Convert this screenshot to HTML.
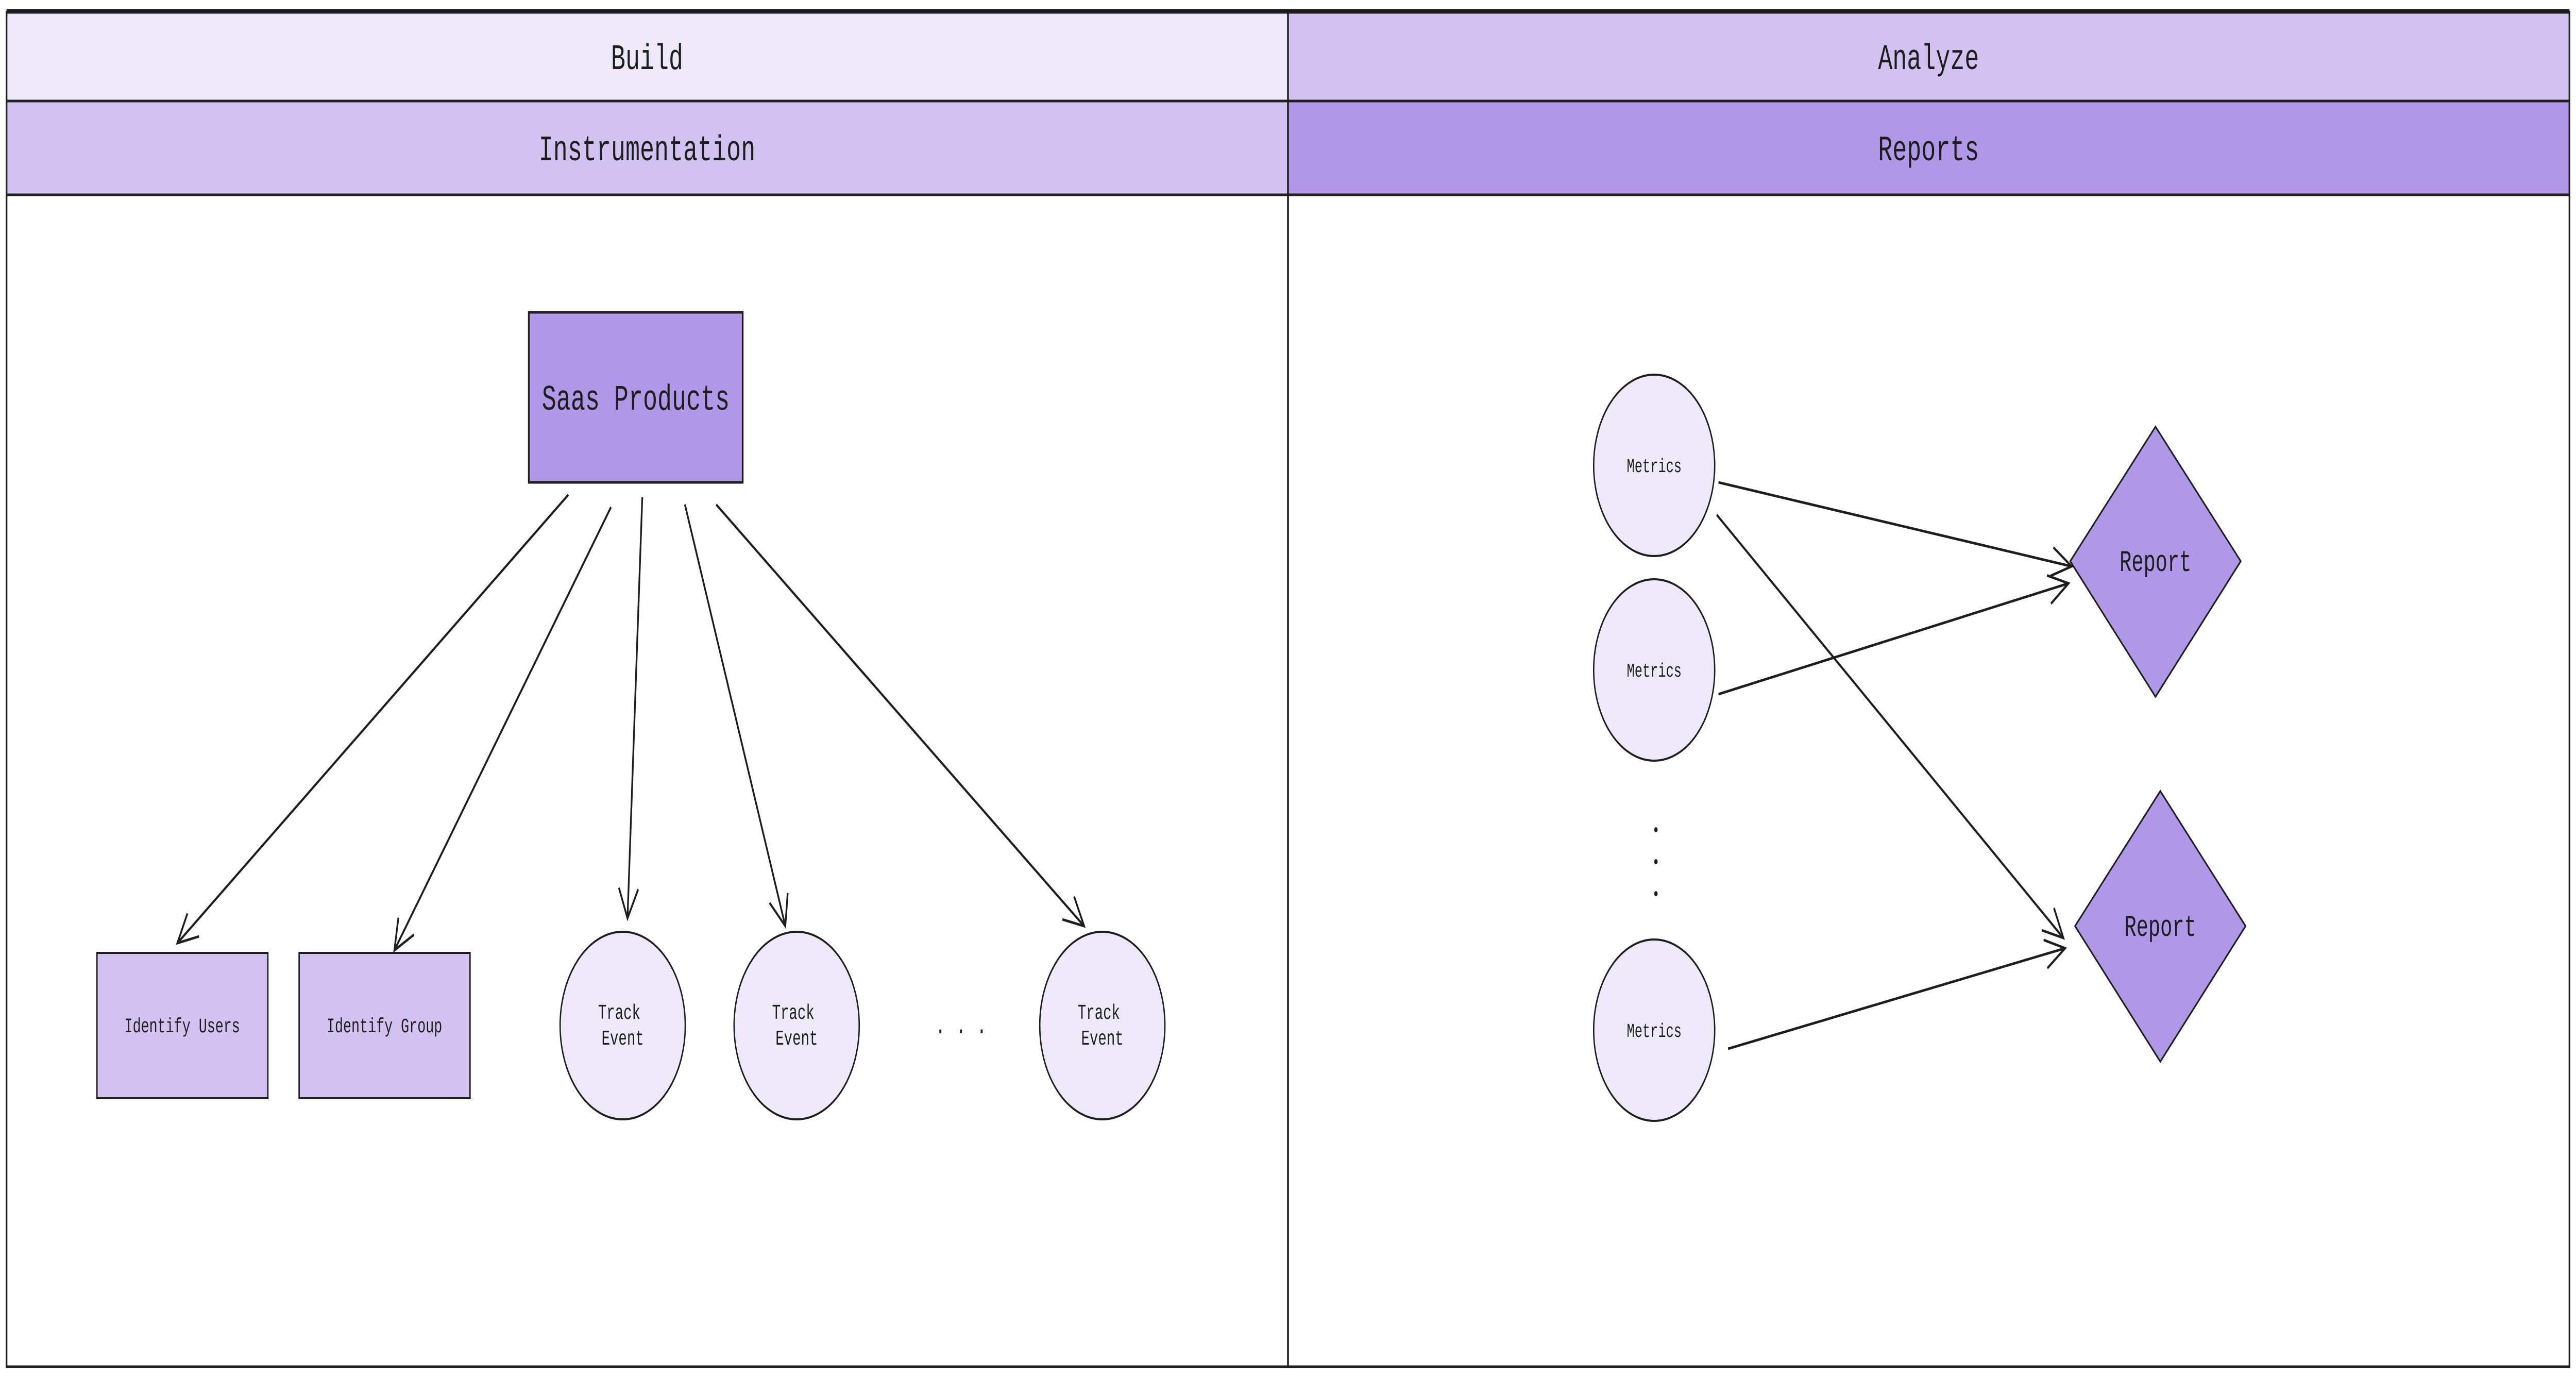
<!DOCTYPE html>
<html><head><meta charset="utf-8"><style>
html,body{margin:0;padding:0;background:#fff;width:100%;height:100%;overflow:hidden;}
svg{display:block;width:100vw;height:100vh;}
text{font-family:"Liberation Mono","DejaVu Sans Mono",monospace;fill:#1e1e1e;}
</style></head><body>
<svg viewBox="0 0 7492 2670" preserveAspectRatio="none" xmlns="http://www.w3.org/2000/svg">
<defs>
<marker id="a" markerWidth="70" markerHeight="70" refX="60" refY="30" orient="auto" markerUnits="userSpaceOnUse">
<path d="M2,2 L60,30 L2,58" fill="none" stroke="#1e1e1e" stroke-width="5"/>
</marker>
</defs>
<rect x="19" y="24" width="3727" height="172" fill="#ede9f8" stroke="#1e1e1e" stroke-width="5"/>
<rect x="3746" y="24" width="3727" height="172" fill="#d2c2f0" stroke="#1e1e1e" stroke-width="5"/>
<rect x="19" y="196" width="3727" height="182" fill="#d2c2f0" stroke="#1e1e1e" stroke-width="5"/>
<rect x="3746" y="196" width="3727" height="182" fill="#b098e8" stroke="#1e1e1e" stroke-width="5"/>
<rect x="19" y="378" width="3727" height="2274" fill="none" stroke="#1e1e1e" stroke-width="5"/>
<rect x="3746" y="378" width="3727" height="2274" fill="none" stroke="#1e1e1e" stroke-width="5"/>
<line x1="19" y1="20" x2="7473" y2="20" stroke="#1e1e1e" stroke-width="4"/>
<g font-size="70" text-anchor="middle">
<text x="1882" y="134">Build</text>
<text x="5609" y="134">Analyze</text>
<text x="1882" y="311">Instrumentation</text>
<text x="5609" y="311">Reports</text>
</g>
<rect x="1538" y="606" width="622" height="330" fill="#b098e8" stroke="#1e1e1e" stroke-width="5"/>
<text x="1849" y="795" font-size="70" text-anchor="middle">Saas Products</text>
<rect x="282" y="1849" width="497" height="282" fill="#d2c2f0" stroke="#1e1e1e" stroke-width="4"/>
<rect x="870" y="1849" width="497" height="282" fill="#d2c2f0" stroke="#1e1e1e" stroke-width="4"/>
<g font-size="40" text-anchor="middle">
<text x="530" y="2003">Identify Users</text>
<text x="1118" y="2003">Identify Group</text>
</g>
<g fill="#ede9f8" stroke="#1e1e1e" stroke-width="4">
<circle cx="1811" cy="1990" r="182"/>
<circle cx="2317" cy="1990" r="182"/>
<circle cx="3206" cy="1990" r="182"/>
<circle cx="4811" cy="903" r="176"/>
<circle cx="4811" cy="1300" r="176"/>
<circle cx="4811" cy="1999" r="176"/>
</g>
<g font-size="41" text-anchor="middle">
<text x="1801" y="1977">Track</text><text x="1811" y="2027">Event</text>
<text x="2307" y="1977">Track</text><text x="2317" y="2027">Event</text>
<text x="3196" y="1977">Track</text><text x="3206" y="2027">Event</text>
</g>
<g font-size="38" text-anchor="middle">
<text x="4811" y="916">Metrics</text>
<text x="4811" y="1313">Metrics</text>
<text x="4811" y="2012">Metrics</text>
</g>
<text x="2795" y="2005" font-size="50" text-anchor="middle">. . .</text>
<g fill="#1e1e1e"><circle cx="4816" cy="1610" r="5"/><circle cx="4816" cy="1672" r="5"/><circle cx="4816" cy="1734" r="5"/></g>
<polygon points="6269,828 6517,1089 6269,1352 6021,1089" fill="#b098e8" stroke="#1e1e1e" stroke-width="4"/>
<polygon points="6283,1535 6531,1797 6283,2060 6035,1797" fill="#b098e8" stroke="#1e1e1e" stroke-width="4"/>
<g font-size="58" text-anchor="middle">
<text x="6269" y="1108">Report</text>
<text x="6283" y="1816">Report</text>
</g>
<g stroke="#1e1e1e" stroke-width="5" fill="none" marker-end="url(#a)">
<line x1="1653" y1="960" x2="516" y2="1830"/>
<line x1="1777" y1="984" x2="1147" y2="1844"/>
<line x1="1868" y1="965" x2="1825" y2="1782"/>
<line x1="1992" y1="979" x2="2284" y2="1797"/>
<line x1="2083" y1="979" x2="3153" y2="1797"/>
<line x1="4998" y1="936" x2="6025" y2="1099"/>
<line x1="4998" y1="1347" x2="6016" y2="1132"/>
<line x1="4993" y1="999" x2="6001" y2="1820"/>
<line x1="5026" y1="2035" x2="6006" y2="1840"/>
</g>
</svg>
</body></html>
